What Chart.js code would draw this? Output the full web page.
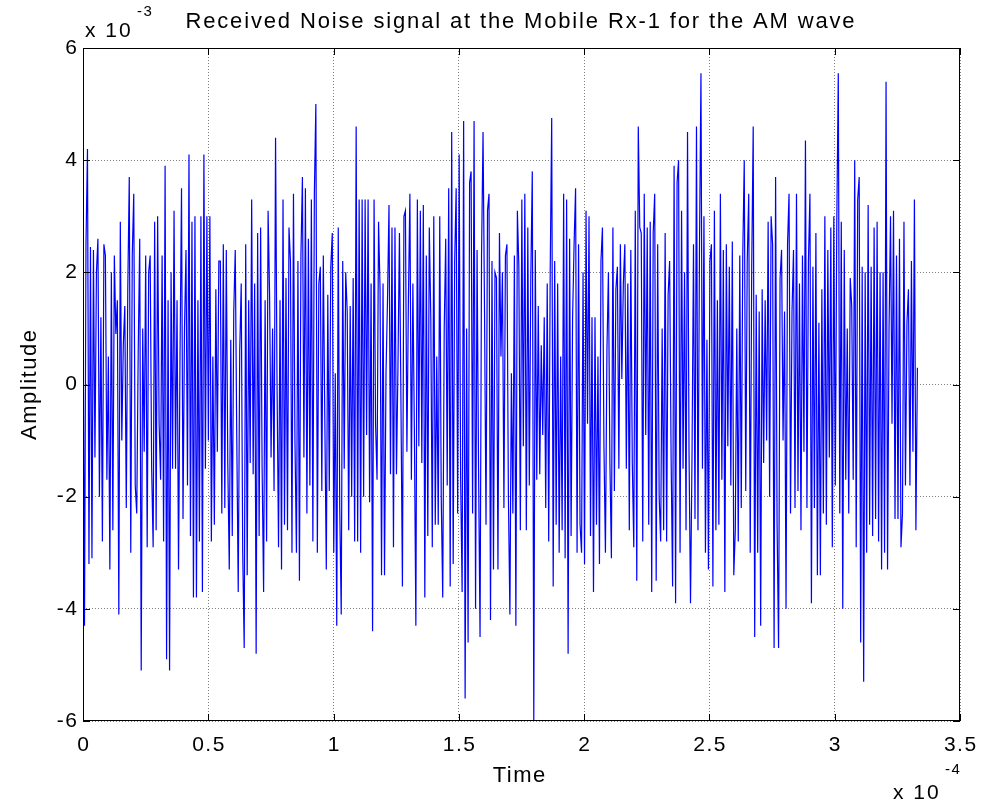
<!DOCTYPE html>
<html>
<head>
<meta charset="utf-8">
<script src="https://cdn.jsdelivr.net/npm/chart.js@4.4.0/dist/chart.umd.min.js"></script>
<style>
  html, body { margin: 0; padding: 0; background: #fff; }
  #wrap { position: relative; width: 984px; height: 805px; }
</style>
</head>
<body>
<div id="wrap"><canvas id="noiseChart" width="984" height="805"></canvas></div>
<script>
const chartTitle = 'Received Noise signal at the Mobile Rx-1 for the AM wave';
const xLabel = 'Time';
const yLabel = 'Amplitude';
const xTicks = [0, 0.5, 1, 1.5, 2, 2.5, 3, 3.5];   // x 10^-4
const yTicks = [-6, -4, -2, 0, 2, 4, 6];           // x 10^-3
const sampleStep = 3.33 / 559;                     // time between samples, x 10^-4

// received noise amplitude, x 10^-3 left to right
const amplitude = [
  1.8, -4.3, 2.5, 4.2, -3.2, 2.45, -3.1, 2.4, -1.3, 2.0, 2.6, -2.0, 1.2, -2.8, 2.5, 2.3, -1.7, 0.5, -3.3, 2.0,
  -2.6, 2.3, 0.9, 1.5, -4.1, 2.9, -1.0, 0.7, 1.4, -2.2, 1.7, 3.7, -3.0, 2.3, 3.4, -1.8, -2.3, 0.6, 2.6, -5.1,
  1.0, -1.2, 2.3, -2.9, 2.0,
  2.3, -1.5, -2.9, 2.9, -2.6, 3.0, -0.7, -1.7, 2.3, -2.8, 3.9, -4.9, 1.5, -5.1, 2.0, -1.5, 3.1, -1.5, 1.5, -3.3,
  0.5, 3.5, -2.4, 1.0, 2.4, -1.8, 4.1, -2.7, 2.9, -3.8, 3.0, -3.8, 1.5, -2.8, 3.0, -3.7, 4.1, -1.5, 3.0, -1.0,
  3.0, -2.8, 0.5, -2.5, 1.7, -1.2, 2.2,
  2.2, -2.3, 2.5, -2.2, 2.4, -1.4, -3.3, 0.8, -2.7, 1.3, 2.4, -0.9, -3.7, 0.6, 1.8, -3.0, -4.7, 2.5, -3.4, 1.5,
  -1.4, 3.3, -1.6, 1.8, -4.8, 2.7, -2.7, 2.8, -1.5, -3.7, 1.5, -2.8, 3.1, 1.6, -1.3, 1.0, -1.9, 4.4, 0.0, -2.9,
  1.5, -3.3, 3.3, -2.5, 1.9, -2.6, 2.8,
  2.2, -3.0, 3.4, -1.0, -3.0, 2.2, -3.5, 2.3, 3.7, -1.3, 3.5, -2.3, 2.6, -1.8, 3.3, -2.8, 3.4, 5.0, -3.0, 1.8,
  2.1, -1.9, 2.3, -0.6, -3.3, 1.6, -1.9, 2.1, 2.7, -3.0, 0.2, -4.3, 2.8, -2.2, -4.1, 2.2, -1.5, 2.0, 1.3, -2.6,
  1.4, -2.0, 1.9, -2.8, 4.6, -2.8, 3.3,
  -3.0, 3.3, -2.0, 3.3, -0.9, 3.3, -2.1, 1.8, -4.4, 3.3, -0.7, -1.7, 2.9, 1.7, -3.4, 1.8, -3.4, 0.2, 1.5, 3.2,
  -1.6, 2.8, -2.9, 2.8, -1.6, 0.3, 2.7, -0.3, -3.6, 3.0, 3.1, -1.2, 1.5, 3.4, -1.7, 1.8, -0.8, -4.3, 3.3, -1.1,
  3.1, -1.4, 3.2, -3.8, 2.3, -2.7, 2.8,
  1.2, -2.9, 3.0, -2.5, 0.5, -2.5, 3.0, -2.0, -3.8, 1.0, 2.6, -1.8, 3.5, -3.6, 4.5, -3.2, 2.2, 3.5, -2.3, 4.1,
  -1.7, -3.7, 4.7, -5.6, 1.0, -4.6, 3.6, 3.8, -2.3, 4.7, -4.0, 2.4, -1.5, -4.5, 2.3, 4.5, 1.3, -2.5, 3.1, 3.4,
  -4.2, 2.2, -3.3, 2.0, 1.9, -3.3, 2.7,
  0.5, 2.0, -2.2, 2.3, 2.5, -2.0, -4.1, 0.2, -2.3, 2.3, -4.3, 3.1, 2.1, -2.6, 3.3, -1.1, 3.4, -2.6, 2.8, -1.8,
  1.9, 3.8, -6.0, 2.4, -1.7, 1.4, -1.6, 0.7, -0.9, 1.2, -2.2, 1.8, -2.8, 2.0, 4.75, -3.6, 2.2, -2.5, 1.8, -3.0,
  0.5, -2.6, 3.4, -3.1, 3.3, -4.8, 2.6,
  -2.7, 1.2, 2.5, 3.5, -3.0, 2.5, -2.5, -3.0, 2.0, -3.2, 3.1, -0.7, 3.0, -2.7, 1.2, -3.7, 1.2, -2.5, 0.5, -3.2,
  2.2, 2.8, -1.1, -3.0, 0.6, 2.0, -1.4, -3.1, 2.8, -1.9, 1.7, 2.1, -1.5, 2.5, 0.1, 1.8, 2.5, -1.5, 1.8, -2.6,
  2.4, -1.4, -2.9, 3.1, -3.5, 4.6, 2.8,
  2.7, -2.8, 3.4, -0.9, 2.8, -2.5, 2.9, -3.7, 2.7, 3.4, -3.5, 2.5, -2.0, -2.8, 1.0, -2.6, 2.7, -2.8, 1.6, 2.2,
  -1.3, -3.6, 3.9, -3.9, 3.6, 4.0, -3.0, 3.1, -1.5, 2.0, -2.6, 4.5, -1.2, -3.9, -1.3, 2.5, -2.4, 4.6, -2.6, 2.4,
  5.55, -1.5, 3.0, -3.0, 0.8, -3.3, 2.2,
  2.5, -3.6, 3.1, -2.6, 1.5, -2.5, 3.4, -1.7, 2.4, -3.7, 2.5, -1.1, 2.1, -1.8, 2.55, -3.4, -2.6, 1.0, -2.8, 2.3,
  -2.2, 2.3, 4.0, -1.9, 2.2, 3.4, -3.0, 2.1, 4.6, -4.5, 1.6, -3.0, 1.3, -4.3, 1.7, -1.4, 1.5, -1.0, 2.9, -2.0,
  3.0, 2.5, -4.7, 3.7, -2.5, -4.7, 1.9,
  2.4, -1.0, 1.3, -4.0, 2.5, 3.4, -2.3, 1.3, 2.4, -2.2, 3.4, -1.9, 1.8, -2.6, 2.3, -1.2, 4.35, -2.2, 2.2, 3.4,
  -3.9, 2.1, -2.2, 2.7, -3.4, 1.1, -3.4, 1.7, -2.3, 3.0, -2.5, 2.4, -1.3, 2.8, -2.9, 3.0, -1.8, 2.9, 5.55, -2.3,
  2.9, -4.0, 2.4, -1.7, 1.0, -2.3, 1.9,
  1.4, -1.7, 4.0, -2.9, 3.3, 3.7, -4.6, 2.1, -5.3, 2.0, -3.0, 3.2, -2.5, 2.1, -2.7, 2.8, -2.4, 2.9, -2.8, 2.0,
  -3.3, 2.0, -3.0, 5.4, -3.3, 1.0, 3.0, -0.7, 3.1, -2.4, 2.3, -2.4, 2.6, -2.9, -2.3, 2.9, -1.8, 1.1, 1.7, -1.8,
  2.2, -1.2, 3.3, -2.6, 0.3
];

const points = amplitude.map((v, i) => ({ x: i * sampleStep, y: v }));
const FONT = 'Liberation Sans, Arial, Helvetica, sans-serif';

// text with the slightly wide matlab letter spacing; align is 'left' | 'center' | 'right'
function spacedText(ctx, text, x, y, size, align, spacing = 1.5) {
  ctx.font = size + 'px ' + FONT;
  ctx.letterSpacing = '0px';
  const w = ctx.measureText(text).width + spacing * (text.length - 1);
  let left = x;
  if (align === 'center') left = x - w / 2;
  if (align === 'right') left = x - w;
  ctx.letterSpacing = spacing + 'px';
  ctx.textAlign = 'left';
  ctx.fillText(text, left, y);
  ctx.letterSpacing = '0px';
}

// matlab style: box, inward ticks, tick labels, axis labels and exponent notes
const matlabFrame = {
  id: 'matlabFrame',
  afterDraw(chart) {
    const { ctx, chartArea: a, scales } = chart;
    ctx.save();
    ctx.strokeStyle = '#000';
    ctx.lineWidth = 1;
    ctx.strokeRect(a.left + 0.5, a.top + 0.5, a.right - a.left - 1, a.bottom - a.top - 1);
    const tl = 7;
    ctx.beginPath();
    xTicks.forEach(t => {
      const px = Math.round(scales.x.getPixelForValue(t)) + 0.5;
      ctx.moveTo(px, a.bottom); ctx.lineTo(px, a.bottom - tl);
      ctx.moveTo(px, a.top); ctx.lineTo(px, a.top + tl);
    });
    yTicks.forEach(t => {
      const py = Math.round(scales.y.getPixelForValue(t)) + 0.5;
      ctx.moveTo(a.left, py); ctx.lineTo(a.left + tl, py);
      ctx.moveTo(a.right, py); ctx.lineTo(a.right - tl, py);
    });
    ctx.stroke();

    ctx.fillStyle = '#000';
    ctx.textBaseline = 'middle';
    xTicks.forEach(t => spacedText(ctx, String(t), scales.x.getPixelForValue(t), a.bottom + 24, 21, 'center'));
    yTicks.forEach(t => spacedText(ctx, String(t), a.left - 6, scales.y.getPixelForValue(t), 21, 'right'));

    spacedText(ctx, chartTitle, 520, 22, 22, 'center', 1.85);
    spacedText(ctx, xLabel, 519, 776, 22, 'center');
    ctx.save();
    ctx.translate(30, 385);
    ctx.rotate(-Math.PI / 2);
    spacedText(ctx, yLabel, 0, 0, 22, 'center');
    ctx.restore();

    spacedText(ctx, 'x 10', 85, 31, 21, 'left', 2);
    spacedText(ctx, '-3', 137, 12, 15, 'left');
    spacedText(ctx, 'x 10', 893, 793, 21, 'left', 2);
    spacedText(ctx, '-4', 945, 770, 15, 'left');
    ctx.restore();
  }
};

new Chart(document.getElementById('noiseChart'), {
  type: 'line',
  data: {
    datasets: [{
      data: points,
      borderColor: '#0000ff',
      borderWidth: 1.2,
      pointRadius: 0,
      tension: 0,
      fill: false
    }]
  },
  options: {
    responsive: false,
    animation: false,
    devicePixelRatio: 1,
    layout: { padding: { top: 48, right: 24, left: 0, bottom: 0 } },
    plugins: { legend: { display: false }, tooltip: { enabled: false } },
    scales: {
      x: {
        type: 'linear',
        min: 0,
        max: 3.5,
        afterBuildTicks: s => { s.ticks = xTicks.map(v => ({ value: v })); },
        afterFit: s => { s.height = 84; },
        ticks: { display: false },
        grid: { color: 'rgba(0,0,0,0.5)', drawTicks: false },
        border: { display: false, dash: [1, 2] }
      },
      y: {
        type: 'linear',
        min: -6,
        max: 6,
        afterBuildTicks: s => { s.ticks = yTicks.map(v => ({ value: v })); },
        afterFit: s => { s.width = 83; },
        ticks: { display: false },
        grid: { color: 'rgba(0,0,0,0.5)', drawTicks: false },
        border: { display: false, dash: [1, 2] }
      }
    }
  },
  plugins: [matlabFrame]
});
</script>
</body>
</html>
